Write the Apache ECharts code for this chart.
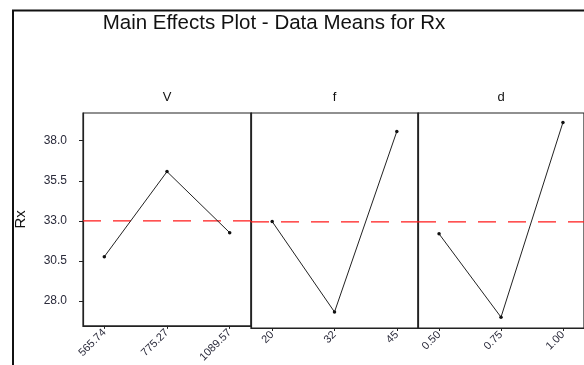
<!DOCTYPE html>
<html>
<head>
<meta charset="utf-8">
<script src="https://cdn.jsdelivr.net/npm/echarts@6/dist/echarts.min.js"></script>
<style>
  html, body { margin: 0; padding: 0; background: #fff; }
  #chart { width: 584px; height: 365px; }
</style>
</head>
<body>
<div id="chart"></div>
<script>
// Factors and their levels
const factors = ['V', 'f', 'd'];
const levelsV = ['565.74', '775.27', '1089.57'];
const levelsF = ['20', '32', '45'];
const levelsD = ['0.50', '0.75', '1.00'];

// Mean Rx at each level
const meansV = [30.76, 36.07, 32.26];
const meansF = [33.02, 27.43, 38.59];
const meansD = [32.26, 27.11, 39.15];

// Overall mean of Rx
const grandMean = 33.0;

// Y-axis tick labels
const yTicks = [28.0, 30.5, 33.0, 35.5, 38.0];

const levels = [levelsV, levelsF, levelsD];
const means = [meansV, meansF, meansD];

const chart = echarts.init(document.getElementById('chart'), null, { renderer: 'canvas' });

const panelLeft = [83, 251, 418];
const panelWidth = [168, 167, 170];
const xMin = -0.34, xMax = 2.34;
const yMin = 26.44, yMax = 39.73;
const font = 'Liberation Sans, Arial, sans-serif';

const grids = [], xAxes = [], yAxes = [], series = [];
factors.forEach((name, i) => {
  grids.push({
    left: panelLeft[i], top: 113, width: panelWidth[i], height: 215,
    show: true, borderColor: '#222', borderWidth: 1.2, backgroundColor: 'transparent',
    containLabel: false
  });
  // top axis carrying the factor name
  xAxes.push({
    type: 'value', gridIndex: i, min: xMin, max: xMax,
    name: name, nameLocation: 'middle', position: 'top', nameGap: 9,
    nameTextStyle: { fontFamily: font, fontSize: 13, color: '#111' },
    axisLine: { show: false },
    splitLine: { show: false },
    axisTick: { show: false },
    axisLabel: { show: false }
  });
  // bottom axis carrying the level labels
  xAxes.push({
    type: 'value', gridIndex: i, min: xMin, max: xMax, position: 'bottom',
    axisLine: { show: true, onZero: false, lineStyle: { color: '#222', width: 1.2 } },
    splitLine: { show: false },
    axisTick: { show: true, customValues: [0, 1, 2], length: 3, lineStyle: { color: '#222', width: 1 } },
    axisLabel: {
      show: true, customValues: [0, 1, 2], rotate: 45, margin: 5,
      fontFamily: font, fontSize: 11, color: '#2a2a3a',
      formatter: v => levels[i][Math.round(v)]
    }
  });
  yAxes.push({
    type: 'value', gridIndex: i, min: yMin, max: yMax,
    name: i === 0 ? 'Rx' : '', nameLocation: 'middle', nameGap: 55, nameRotate: 90,
    nameTextStyle: { fontFamily: font, fontSize: 15, color: '#111' },
    axisLine: { show: true, onZero: false, lineStyle: { color: '#222', width: 1.2 } },
    splitLine: { show: false },
    axisTick: { show: i === 0, customValues: yTicks, length: 4, lineStyle: { color: '#222' } },
    axisLabel: {
      show: i === 0, customValues: yTicks, margin: 16,
      fontFamily: font, fontSize: 12, color: '#2a2a3a',
      formatter: v => v.toFixed(1)
    }
  });
  // overall mean reference line across the panel
  series.push({
    type: 'line', xAxisIndex: 2 * i + 1, yAxisIndex: i,
    data: [[xMin, grandMean], [xMax, grandMean]],
    symbol: 'none', silent: true, animation: false, z: 1,
    lineStyle: { color: '#ff1a1a', type: [18, 12], width: 1.2 }
  });
  // level means
  series.push({
    type: 'line', xAxisIndex: 2 * i + 1, yAxisIndex: i,
    data: means[i].map((m, k) => [k, m]),
    symbol: 'circle', symbolSize: 3.5, z: 3,
    itemStyle: { color: '#111' },
    lineStyle: { color: '#222', width: 1 },
    silent: true, animation: false
  });
});

chart.setOption({
  animation: false,
  backgroundColor: '#fff',
  title: {
    text: 'Main Effects Plot - Data Means for Rx',
    left: 269, top: 8, textAlign: 'center',
    textStyle: { fontFamily: font, fontSize: 20.5, fontWeight: 'normal', color: '#111' }
  },
  graphic: [
    // outer frame of the plot page
    { type: 'polyline', silent: true,
      shape: { points: [[13, 365], [13, 10.5], [584, 10.5]] },
      style: { stroke: '#111', lineWidth: 2, fill: null } }
  ],
  grid: grids,
  xAxis: xAxes,
  yAxis: yAxes,
  series: series
});
</script>
</body>
</html>
